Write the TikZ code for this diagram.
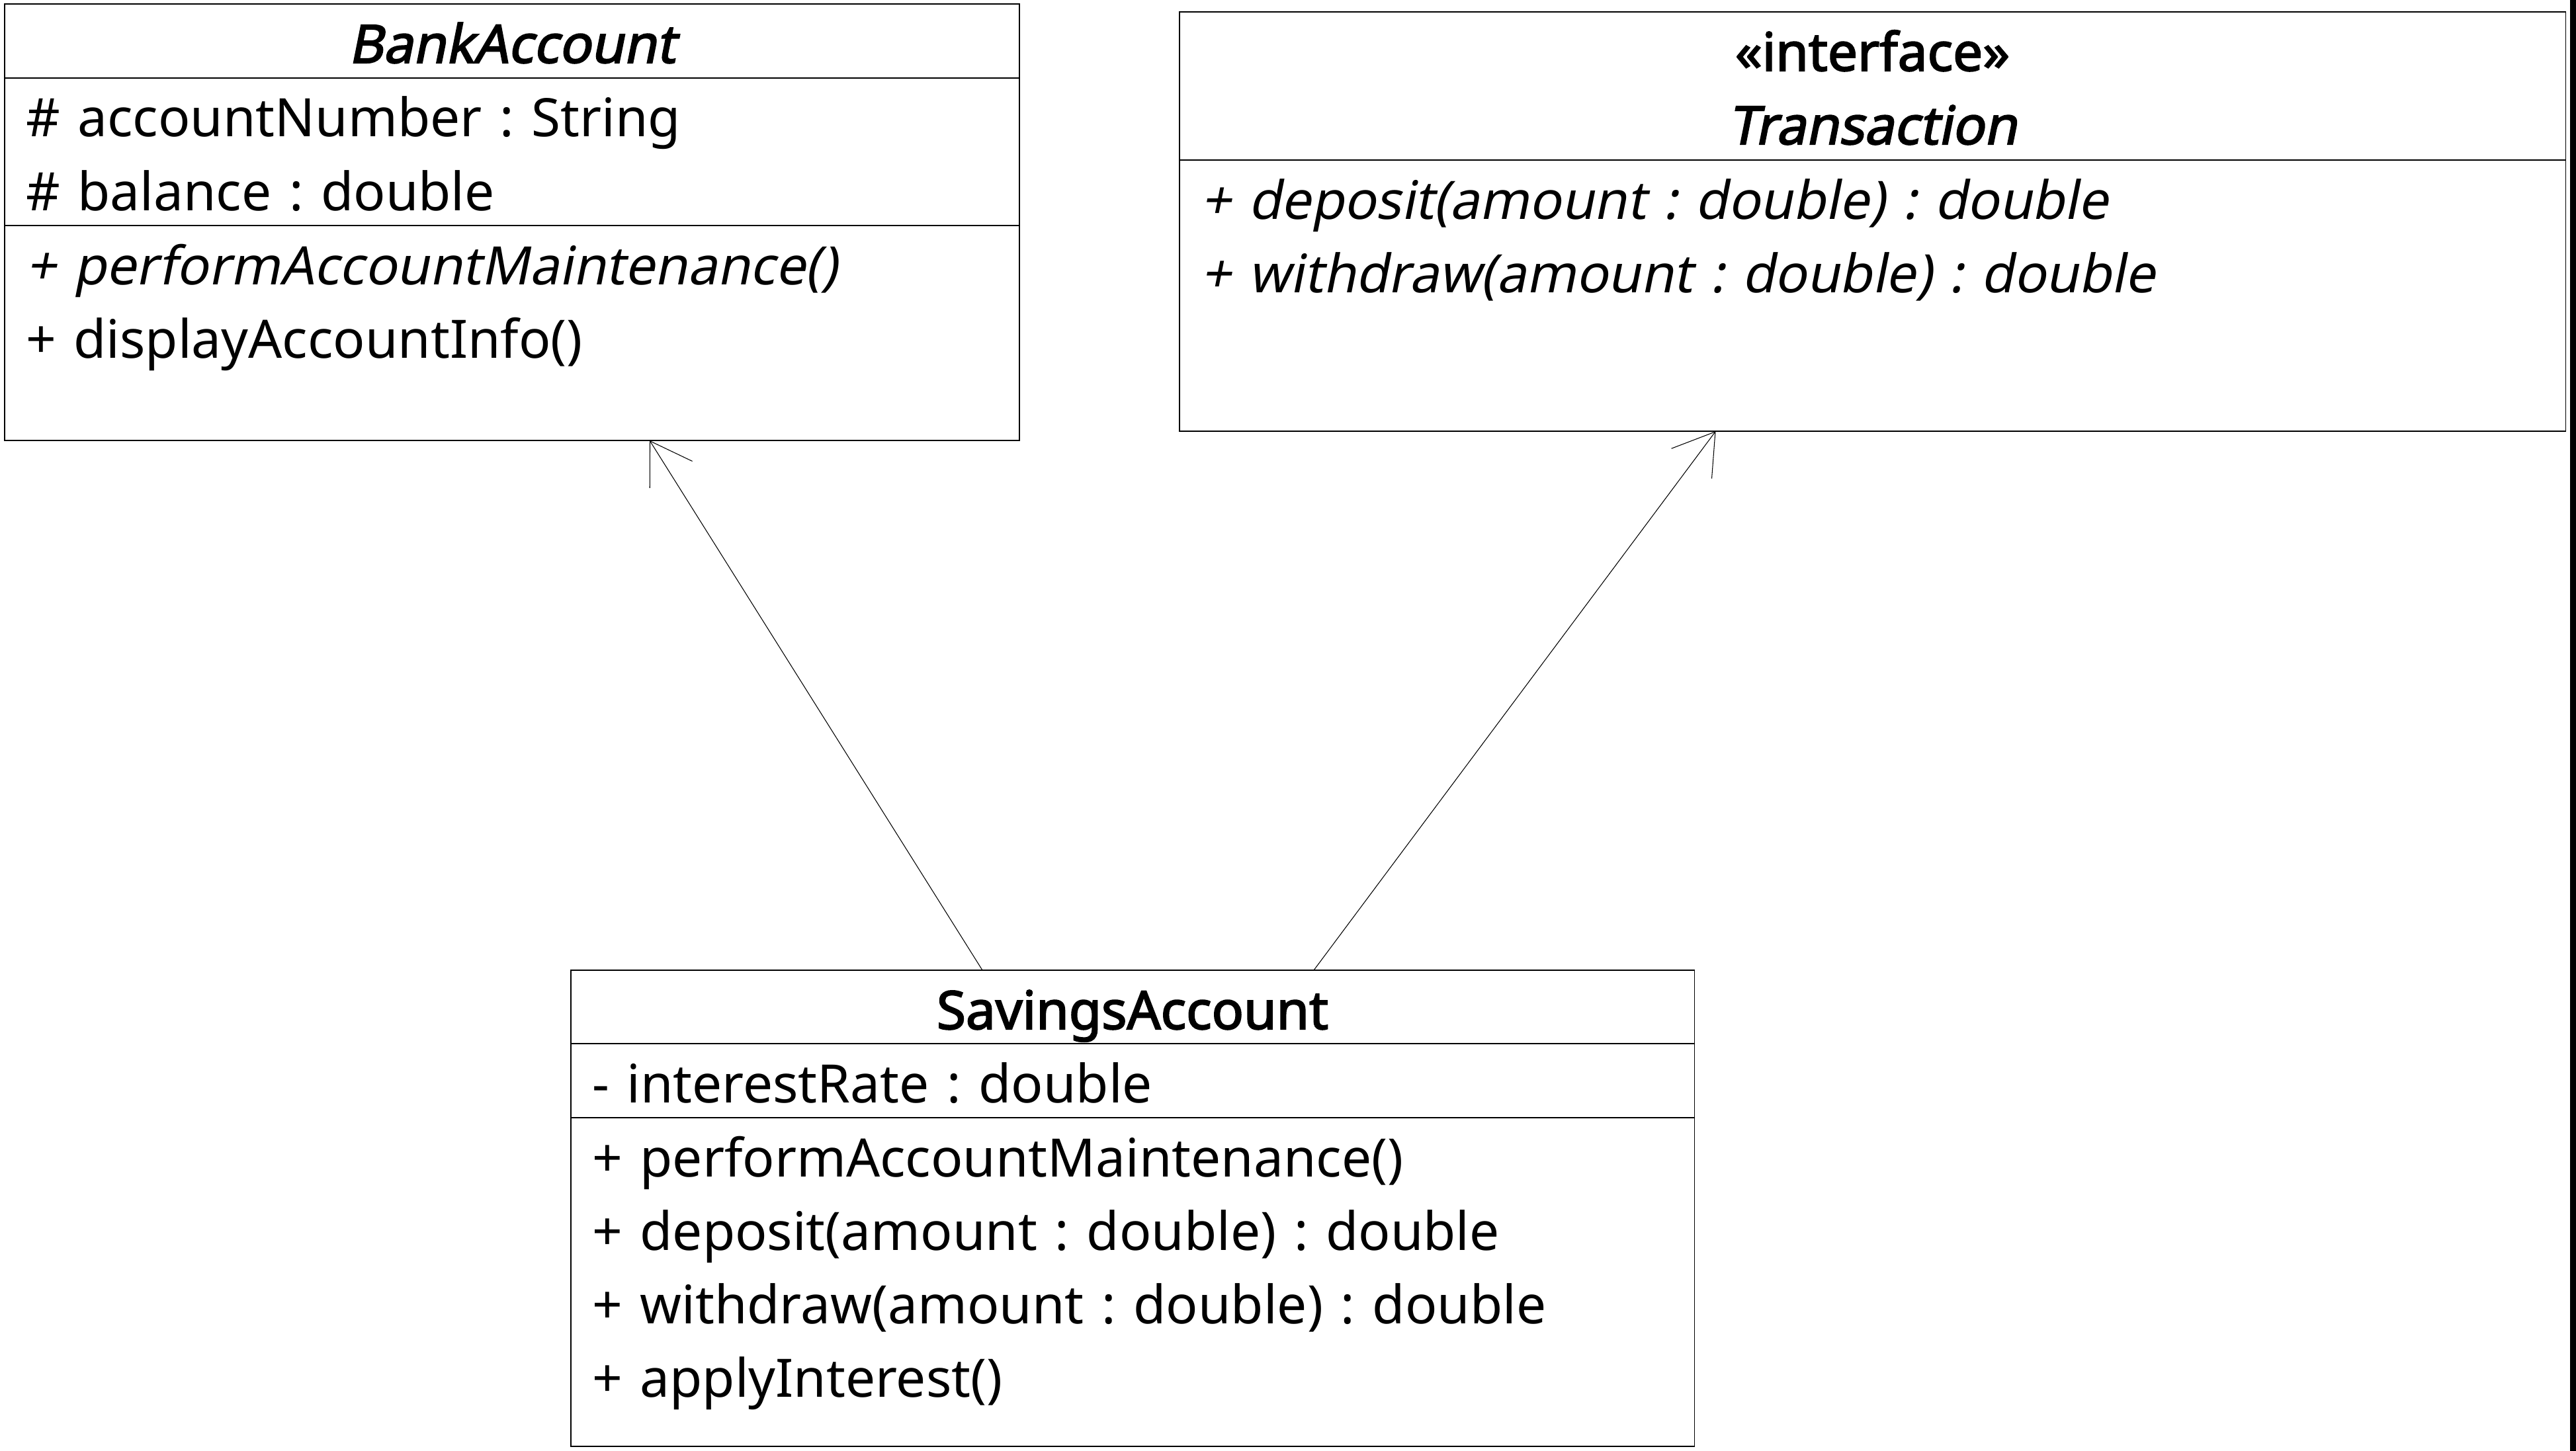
\documentclass[tikz,border=0pt]{standalone}
\usepackage{fontspec}
\setmainfont{Noto Sans}[
  ItalicFont=Noto Sans, ItalicFeatures={FakeSlant=0.2},
  BoldFont=Noto Sans, BoldFeatures={FakeBold=2.5},
  BoldItalicFont=Noto Sans, BoldItalicFeatures={FakeSlant=0.2, FakeBold=2.5}]
\usetikzlibrary{arrows.meta, positioning}

\newcommand{\umlfont}{\fontsize{22.8pt}{31.6pt}\selectfont\frenchspacing}

\tikzset{
  classpart/.style={draw=black, line width=0.3pt, inner xsep=0.32cm, inner ysep=0pt, outer sep=0pt, text height=0.89cm, align=left, font=\umlfont},
  classname/.style={classpart, align=center, font=\umlfont\bfseries},
  extends/.style={-{Straight Barb[length=0.6cm, width=0.76cm]}, line width=0.3pt},
}

\begin{document}
\begin{tikzpicture}
  \useasboundingbox (0,0) rectangle (38.94,-21.94);
  \fill[white] (0,0) rectangle (38.94,-21.94);
  \fill[black] (38.85,0) rectangle (38.94,-21.94);

  % BankAccount
  \node[classname, text width=14.70cm, text depth=0.23cm, anchor=north west] (bankName) at (0.07,-0.06) {\itshape BankAccount};
  \node[classpart, text width=14.70cm, text depth=1.34cm, below=0pt of bankName] (bankAttr) {\# accountNumber : String\\\# balance : double};
  \node[classpart, text width=14.70cm, text depth=2.36cm, below=0pt of bankAttr] (bankOps) {\textit{+ performAccountMaintenance()}\\+ displayAccountInfo()};

  % Transaction
  \node[classname, text width=20.31cm, text depth=1.35cm, anchor=north west] (transName) at (17.83,-0.18) {«interface»\\\itshape Transaction};
  \node[classpart, text width=20.31cm, text depth=3.21cm, below=0pt of transName, font=\umlfont\itshape] (transOps) {+ deposit(amount : double) : double\\+ withdraw(amount : double) : double};

  % SavingsAccount
  \node[classname, text width=16.34cm, text depth=0.22cm, anchor=north west] (savName) at (8.63,-14.67) {SavingsAccount};
  \node[classpart, text width=16.34cm, text depth=0.23cm, below=0pt of savName] (savAttr) {- interestRate : double};
  \node[classpart, text width=16.34cm, text depth=4.08cm, below=0pt of savAttr] (savOps) {+ performAccountMaintenance()\\+ deposit(amount : double) : double\\+ withdraw(amount : double) : double\\+ applyInterest()};

  % arrows
  \draw[extends] ([xshift=-2.27cm]savName.north) -- ([xshift=2.08cm]bankOps.south);
  \draw[extends] ([xshift=2.74cm]savName.north) -- ([xshift=-2.37cm]transOps.south);
\end{tikzpicture}
\end{document}
